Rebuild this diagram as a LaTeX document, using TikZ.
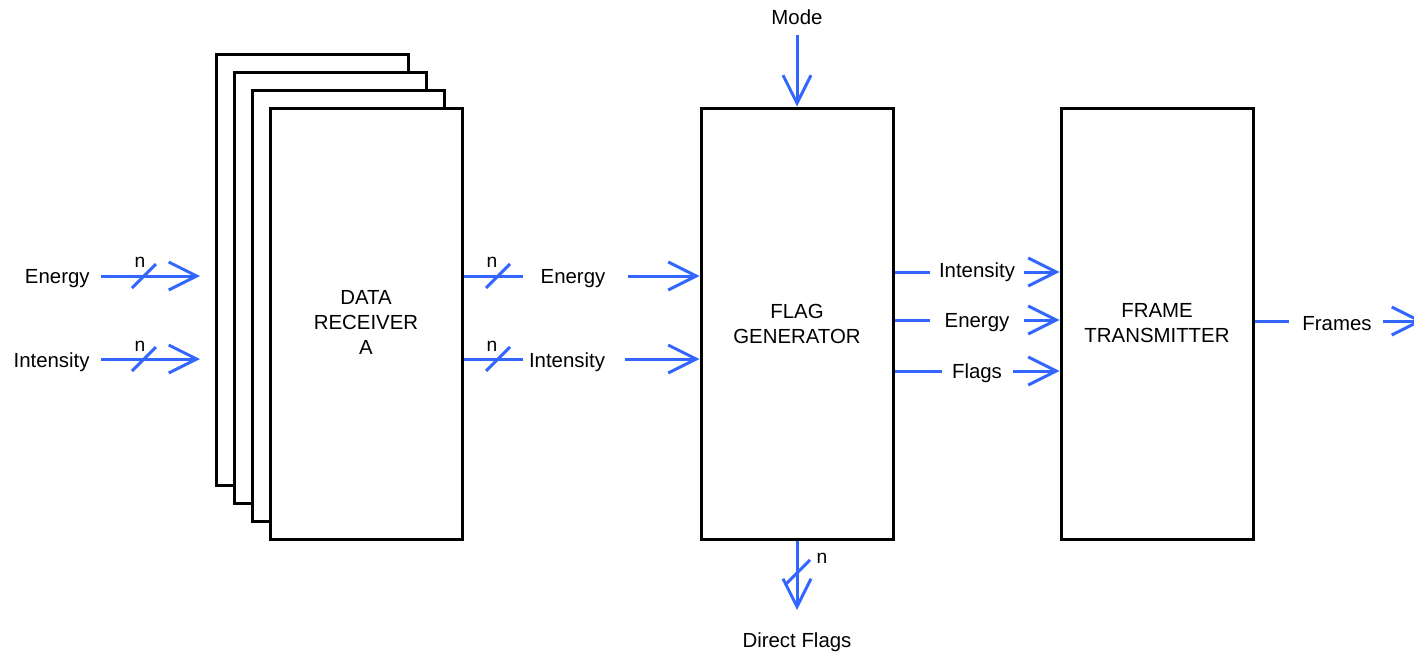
\documentclass[tikz,border=0pt]{standalone}
\usepackage{fontspec}
\setmainfont{Liberation Sans}
\usetikzlibrary{arrows.meta}
\definecolor{sigblue}{RGB}{51,102,255}
\tikzset{
  blk/.style={draw=black, line width=1.5pt, fill=white},
  sig/.style={draw=sigblue, line width=1.5pt},
  sigar/.style={sig, -{Straight Barb[length=14pt,width=14pt,line width=1.5pt]}},
  boxtxt/.style={font=\fontsize{10.2}{12.5}\selectfont, inner sep=0pt, align=center},
  txt/.style={font=\fontsize{10.2}{12.5}\selectfont, inner sep=0pt, anchor=base},
  nlab/.style={font=\fontsize{9.6}{11}\selectfont, inner sep=0pt, anchor=base},
}
\begin{document}
\begin{tikzpicture}[x=0.5pt,y=-0.5pt]
\useasboundingbox (0,0) rectangle (1414,653);
% stacked receivers
\draw[blk] (216,54) rectangle (408,485);
\draw[blk] (234,72) rectangle (426,503);
\draw[blk] (252,90) rectangle (444,521);
\node[blk, minimum width=96pt, minimum height=215.5pt, inner sep=0pt] (recv) at (366,323.5) {};
\node[boxtxt] at (366,322) {DATA\\RECEIVER\\A};
% flag generator
\node[blk, minimum width=96pt, minimum height=215.5pt, inner sep=0pt] (fg) at (797,323.5) {};
\node[boxtxt] at (797,323.5) {FLAG\\GENERATOR};
% frame transmitter
\node[blk, minimum width=96pt, minimum height=215.5pt, inner sep=0pt] (ft) at (1157,323.5) {};
\node[boxtxt] at (1157,323.5) {FRAME\\TRANSMITTER};

% left inputs
\node[txt, anchor=base east] (inE) at (90,283) {Energy};
\node[txt, anchor=base east] (inI) at (90,367) {Intensity};
\coordinate (inEt) at (200,276);
\coordinate (inIt) at (200,359);
\draw[sigar] (101,276) -- (inEt);
\draw[sigar] (101,359) -- (inIt);
\draw[sig] (132,288) -- (156,264);
\draw[sig] (132,371) -- (156,347);
\node[nlab] at (140,267) {n};
\node[nlab] at (140,351) {n};

% receiver outputs
\coordinate (rE1) at (523,276); \coordinate (rE2) at (628,276);
\coordinate (rI1) at (523,359); \coordinate (rI2) at (625,359);
\draw[sig] (recv.east |- rE1) -- (rE1);
\draw[sig] (recv.east |- rI1) -- (rI1);
\node[txt] (lE) at (573,283) {Energy};
\node[txt] (lI) at (567,367) {Intensity};
\draw[sigar] (rE2) -- (fg.west |- rE2);
\draw[sigar] (rI2) -- (fg.west |- rI2);
\draw[sig] (486,288) -- (510,264);
\draw[sig] (486,371) -- (510,347);
\node[nlab] at (492,267) {n};
\node[nlab] at (492,351) {n};

% mode
\node[txt] (mode) at (797,25) {Mode};
\draw[sigar] (797,35) -- (fg.north);

% direct flags
\node[txt] (df) at (797,647) {Direct Flags};
\coordinate (dft) at (797,610);
\draw[sigar] (fg.south) -- (dft);
\draw[sig] (785,585) -- (810,560);
\node[nlab] at (822,563) {n};

% flag generator outputs
\coordinate (oI1) at (930,272); \coordinate (oI2) at (1024,272);
\coordinate (oE1) at (930,320); \coordinate (oE2) at (1024,320);
\coordinate (oF1) at (942,371); \coordinate (oF2) at (1013,371);
\draw[sig] (fg.east |- oI1) -- (oI1);
\draw[sig] (fg.east |- oE1) -- (oE1);
\draw[sig] (fg.east |- oF1) -- (oF1);
\node[txt] (lOI) at (977,277) {Intensity};
\node[txt] (lOE) at (977,327) {Energy};
\node[txt] (lOF) at (977,378) {Flags};
\draw[sigar] (oI2) -- (ft.west |- oI2);
\draw[sigar] (oE2) -- (ft.west |- oE2);
\draw[sigar] (oF2) -- (ft.west |- oF2);

% frames
\coordinate (fr1) at (1289,321); \coordinate (fr2) at (1383,321);
\coordinate (frt) at (1423,321);
\draw[sig] (ft.east |- fr1) -- (fr1);
\node[txt] (lfr) at (1337,330) {Frames};
\draw[sigar] (fr2) -- (frt);
\end{tikzpicture}
\end{document}
